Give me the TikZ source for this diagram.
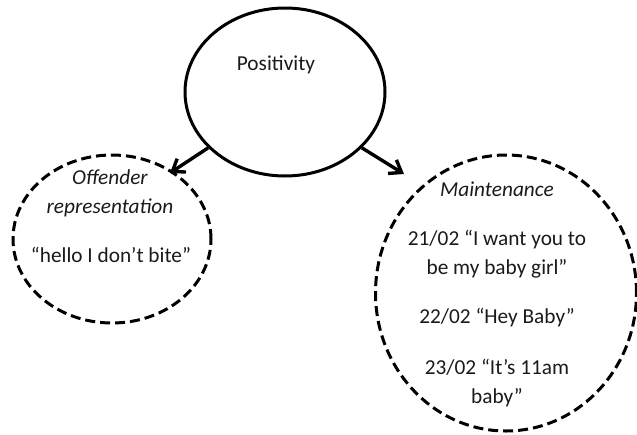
\documentclass[tikz,border=0pt]{standalone}
\usepackage{fontspec}
\setmainfont{Carlito}
\usetikzlibrary{shapes.geometric,arrows.meta}
\definecolor{ink}{HTML}{1A1A1A}
\begin{document}
\begin{tikzpicture}[x=1pt,y=-1pt,
  bubble/.style={ellipse,draw,line width=3pt,inner sep=0pt},
  dbubble/.style={bubble,dash pattern=on 10pt off 5pt},
  txt/.style={font=\fontsize{21.3}{29}\selectfont,align=center,inner sep=0pt,text=ink},
  arr/.style={line width=3.4pt,-{Straight Barb[length=11pt,width=16pt]}}]
\useasboundingbox (0,0) rectangle (637,434);
\node[bubble,minimum width=200pt,minimum height=168pt] (pos) at (285,92) {};
\node[dbubble,minimum width=198pt,minimum height=168pt] (off) at (112,239) {};
\node[dbubble,minimum width=261pt,minimum height=276pt] (main) at (506,293) {};
\node[txt] (tpos) at (276,65) {Positivity};
\node[txt] (toff) at (110,193) {\itshape Offender\\\itshape representation};
\node[txt] (tq) at (111,255) {“hello I don’t bite”};
\node[txt] (tmain) at (497,189) {\itshape Maintenance};
\node[txt] (t21) at (497,254) {21/02 “I want you to\\be my baby girl”};
\node[txt] (t22) at (497,318) {22/02 “Hey Baby”};
\node[txt] (t23) at (497,383) {23/02 “It’s 11am\\baby”};
\coordinate (tipL) at (170,173);
\coordinate (tipR) at (404,174);
\draw[arr] (pos.216.3) -- (tipL);
\draw[arr] (pos.324.8) -- (tipR);
\end{tikzpicture}
\end{document}
